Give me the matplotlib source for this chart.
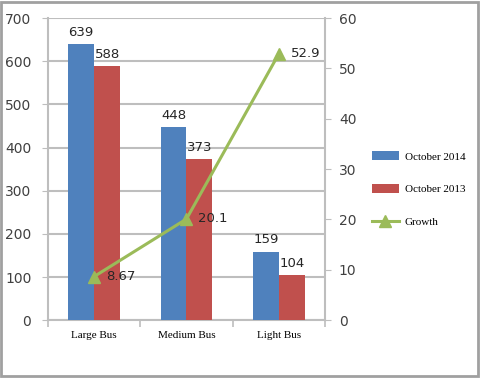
import numpy as np
import matplotlib.pyplot as plt
from matplotlib.patches import Rectangle

categories = ["Large Bus", "Medium Bus", "Light Bus"]
oct_2014 = [639, 448, 159]
oct_2013 = [588, 373, 104]
growth = [8.67, 20.1, 52.9]
growth_labels = ["8.67", "20.1", "52.9"]

blue = "#4F81BD"
red = "#C0504D"
green = "#9BBB59"
grid_c = "#BEBEBE"
txt_c = "#404040"
label_font = "Liberation Serif"

fig = plt.figure(figsize=(4.8, 3.78), dpi=100)
fig.patches.append(Rectangle((0.002, 0.004), 0.994, 0.99, transform=fig.transFigure,
                             fill=False, edgecolor="#A0A0A0", linewidth=2))

ax = fig.add_axes([0.1, 0.153, 0.577, 0.799])
x = np.arange(len(categories))
w = 0.28

ax.bar(x - w / 2, oct_2014, w, color=blue, label="October 2014", zorder=3)
ax.bar(x + w / 2, oct_2013, w, color=red, label="October 2013", zorder=3)
for xi, v in zip(x, oct_2014):
    ax.text(xi - w / 2, v + 12, str(v), ha="center", va="bottom", fontsize=9.5, color="#262626")
for xi, v in zip(x, oct_2013):
    ax.text(xi + w / 2, v + 12, str(v), ha="center", va="bottom", fontsize=9.5, color="#262626")

ax.set_xlim(-0.5, 2.5)
ax.set_ylim(0, 700)
ax.set_yticks(np.arange(0, 701, 100))
ax.yaxis.grid(True, color=grid_c, linewidth=1.5, zorder=0)
ax.set_axisbelow(True)
ax.set_xticks(x)
ax.set_xticklabels(categories, fontfamily=label_font, fontsize=8, color="black")
ax.set_xticks([-0.5, 0.5, 1.5, 2.5], minor=True)
ax.tick_params(axis="x", which="major", length=0, pad=8)
ax.tick_params(axis="x", which="minor", length=5, color=grid_c, width=1.2)
ax.tick_params(axis="y", length=4, color=grid_c, labelsize=10, labelcolor=txt_c, pad=8)
for side in ["top", "right"]:
    ax.spines[side].set_visible(False)
ax.spines["left"].set_color(grid_c)
ax.spines["bottom"].set_color(grid_c)
ax.spines["left"].set_linewidth(1.5)
ax.spines["bottom"].set_linewidth(1.5)

ax2 = ax.twinx()
ax2.plot(x, growth, color=green, linewidth=2.2, marker="^", markersize=8,
         label="Growth", zorder=4)
for xi, v, s in zip(x, growth, growth_labels):
    ax2.text(xi + 0.13, v, s, ha="left", va="center", fontsize=9.5, color="#262626")
ax2.set_ylim(0, 60)
ax2.set_yticks(np.arange(0, 61, 10))
ax2.tick_params(axis="y", length=4, color=grid_c, labelsize=10, labelcolor=txt_c, pad=6)
for side in ["top", "left", "bottom"]:
    ax2.spines[side].set_visible(False)
ax2.spines["right"].set_color(grid_c)
ax2.spines["right"].set_linewidth(1.5)

h1, l1 = ax.get_legend_handles_labels()
h2, l2 = ax2.get_legend_handles_labels()
fig.legend(h1 + h2, l1 + l2, loc="center left", bbox_to_anchor=(0.755, 0.5),
           frameon=False, prop={"family": label_font, "size": 8},
           handlelength=2.35, handleheight=0.9, labelspacing=2.0, handletextpad=0.55)

fig.savefig("out.png", dpi=100)
